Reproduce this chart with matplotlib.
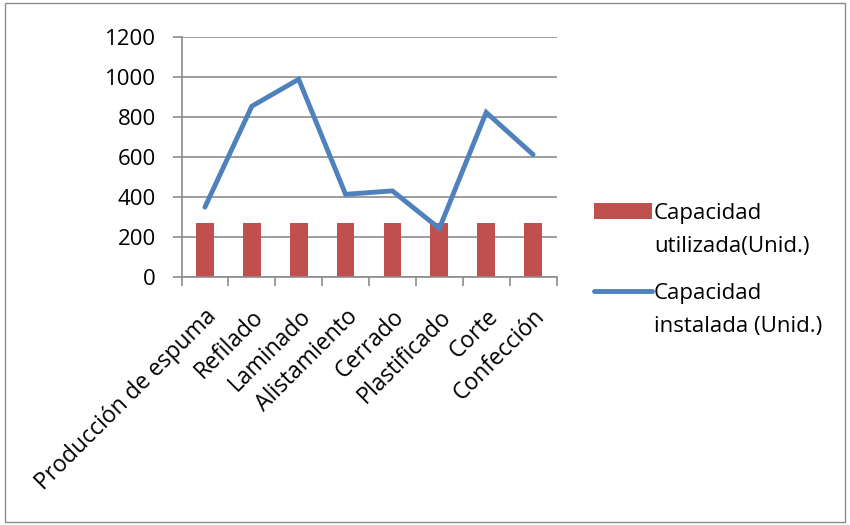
import matplotlib
matplotlib.use("Agg")
import matplotlib.pyplot as plt
from matplotlib.patches import Rectangle
import numpy as np

categories = ["Producción de espuma", "Refilado", "Laminado", "Alistamiento",
              "Cerrado", "Plastificado", "Corte", "Confección"]
utilizada = [270, 270, 270, 270, 270, 270, 270, 270]
instalada = [350, 855, 990, 414, 431, 243, 824, 613]
yticks = [0, 200, 400, 600, 800, 1000, 1200]
legend_first = ["Capacidad", "Capacidad"]
legend_second = ["utilizada(Unid.)", "instalada (Unid.)"]

plt.rcParams['font.family'] = ['Open Sans', 'DejaVu Sans']
FS = 16
GRAY = '#8c8c8c'

W, H = 850, 525
fig = plt.figure(figsize=(8.5, 5.25), dpi=100)
ax = fig.add_axes([181.5 / W, 1 - 277 / H, (556.5 - 181.5) / W, (277 - 37.3) / H])

x = np.arange(len(categories))
bars = ax.bar(x, utilizada, width=0.38, color='#C0504D', zorder=2)
line, = ax.plot(x, instalada, color='#4F81BD', lw=3.5, solid_capstyle='round',
                solid_joinstyle='miter', zorder=3)

ax.set_xlim(-0.5, len(categories) - 0.5)
ax.set_ylim(0, 1200)
ax.set_yticks(yticks)
ax.set_yticklabels([str(v) for v in yticks], fontsize=FS)
ax.yaxis.grid(True, color=GRAY, lw=1.2, zorder=0)
ax.set_axisbelow(True)

ax.set_xticks(x)
ax.set_xticklabels(categories, rotation=45, ha='right', rotation_mode='anchor', fontsize=16.5)
ax.tick_params(axis='x', length=0, pad=20)
ax.set_xticks(np.arange(-0.5, len(categories)), minor=True)
ax.tick_params(axis='x', which='minor', length=6.5, color=GRAY, width=1.2)
ax.tick_params(axis='y', length=6.5, color=GRAY, width=1.2, pad=12)

for s in ['top', 'right']:
    ax.spines[s].set_visible(False)
for s in ['left', 'bottom']:
    ax.spines[s].set_color(GRAY)
    ax.spines[s].set_linewidth(1.2)

leg = fig.legend([bars, line], legend_first,
                 loc='upper left', bbox_to_anchor=(594 / W, 1 - 203 / H), frameon=False,
                 fontsize=FS, handlelength=2.6, handletextpad=0.1, labelspacing=2.65,
                 borderaxespad=0, borderpad=0)

fig.canvas.draw()
inv = fig.transFigure.inverted()
for t, s in zip(leg.get_texts(), legend_second):
    bb = t.get_window_extent()
    (x0, y0), = inv.transform([[bb.x0, bb.y0]])
    fig.text(x0, y0 - 33 / H, s, fontsize=FS, ha='left', va='bottom')

fig.patches.append(Rectangle((0.006, 0.006), 0.988, 0.988, transform=fig.transFigure,
                             fill=False, edgecolor=GRAY, lw=1))

fig.savefig('out.png', dpi=100)
